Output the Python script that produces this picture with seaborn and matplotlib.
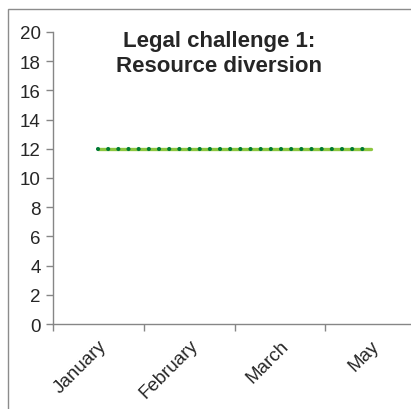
import numpy as np
import pandas as pd
import matplotlib
matplotlib.use("Agg")
import matplotlib.pyplot as plt
from matplotlib.patches import Rectangle
import seaborn as sns

# data
months = ["January", "February", "March", "May"]
values = [12, 12, 12, 12]
y_ticks = [0, 2, 4, 6, 8, 10, 12, 14, 16, 18, 20]

df = pd.DataFrame({"month": months, "value": values, "pos": np.arange(len(months))})

sns.set_style("white")
plt.rcParams['font.family'] = ['Liberation Sans', 'DejaVu Sans']

fig = plt.figure(figsize=(4.11, 4.10), dpi=100)
ax = fig.add_axes([53 / 411, 1 - 325 / 410, 363 / 411, (325 - 33) / 410])

# outer chart frame (runs off the right and bottom edges)
fig.add_artist(Rectangle((8 / 411, -0.2), 2.0, 1.2 - 10 / 410,
                         transform=fig.transFigure, fill=False,
                         edgecolor="#8c8c8c", linewidth=1.0))

sns.lineplot(data=df, x="pos", y="value", ax=ax, color="#8cc63f", linewidth=2.4)
sns.lineplot(data=df, x="pos", y="value", ax=ax, color="#007a33", linewidth=3.0)
ax.lines[-1].set_linestyle((0, (0.01, 2.43)))
ax.lines[-1].set_dash_capstyle("round")

ax.set_xlim(-0.5, len(months) - 0.5)
ax.set_ylim(0, 20)
ax.set_yticks(y_ticks)
ax.set_yticklabels([str(v) for v in y_ticks], fontsize=13.5)
ax.set_xticks(df["pos"])
ax.set_xticklabels(months, fontsize=13.5, rotation=45, ha="right", rotation_mode="anchor")
ax.set_xticks(np.arange(-0.5, len(months) + 0.5, 1), minor=True)
ax.tick_params(axis="x", which="major", bottom=True, length=0, pad=9)
ax.tick_params(axis="x", which="minor", bottom=True, length=5, width=1,
               color="#868686", direction="out")
ax.tick_params(axis="y", left=True, length=5, width=1, color="#868686",
               direction="out", pad=4)
ax.set_xlabel("")
ax.set_ylabel("")

for side in ["top", "right"]:
    ax.spines[side].set_visible(False)
for side in ["left", "bottom"]:
    ax.spines[side].set_color("#868686")
    ax.spines[side].set_linewidth(1.0)

ax.text(219 / 411, 1 - 31 / 410, "Legal challenge 1:\nResource diversion",
        transform=fig.transFigure, ha="center", va="top",
        fontsize=16, fontweight="bold", linespacing=1.25)

fig.savefig("out.png", dpi=100)
